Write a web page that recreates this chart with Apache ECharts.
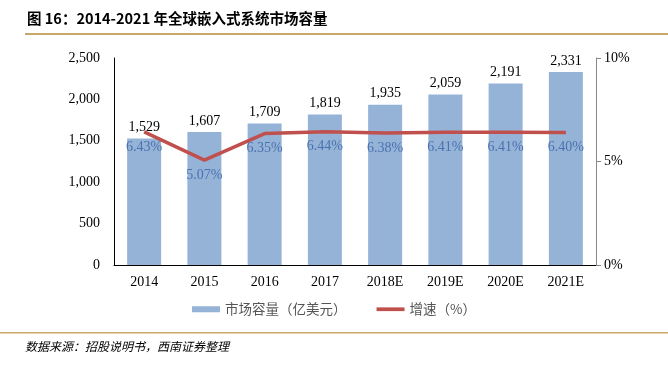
<!DOCTYPE html>
<html>
<head>
<meta charset="utf-8">
<script src="https://cdn.jsdelivr.net/npm/echarts@6/dist/echarts.min.js"></script>
<style>
  html, body { margin: 0; padding: 0; background: #fff; }
  #chart { width: 668px; height: 365px; }
</style>
</head>
<body>
<div id="chart"></div>
<script>
const years = ['2014', '2015', '2016', '2017', '2018E', '2019E', '2020E', '2021E'];
const marketSize = [1529, 1607, 1709, 1819, 1935, 2059, 2191, 2331];
const growth = [6.43, 5.07, 6.35, 6.44, 6.38, 6.41, 6.41, 6.40];

const serif = '"Liberation Serif", "Noto Sans CJK SC", serif';
const cjk = '"Noto Sans CJK SC", sans-serif';

const chart = echarts.init(document.getElementById('chart'));

chart.setOption({
  animation: false,
  backgroundColor: '#fff',
  grid: { left: 114, right: 72, top: 58, bottom: 100 },
  graphic: [
    {
      type: 'text', left: 27, top: 11,
      style: { text: '图 16：2014-2021 年全球嵌入式系统市场容量', font: 'bold 14.5px ' + cjk, fill: '#000' }
    },
    {
      type: 'rect', shape: { x: 25, y: 33, width: 643, height: 2 },
      style: { fill: '#c9a66b' }
    },
    {
      type: 'rect', shape: { x: 0, y: 332, width: 668, height: 1.5 },
      style: { fill: '#c9a66b' }
    },
    {
      type: 'text', left: 25, top: 340,
      style: { text: '数据来源：招股说明书，西南证券整理', font: 'italic 12px ' + cjk, fill: '#000' }
    }
  ],
  legend: {
    bottom: 44,
    left: 'center',
    itemGap: 30,
    itemWidth: 28,
    itemHeight: 6,
    textStyle: { fontFamily: cjk, fontSize: 13.5, color: '#555' },
    data: [
      { name: '市场容量（亿美元）', icon: 'rect' },
      { name: '增速（%）', icon: 'path://M0,0L30,0L30,4L0,4Z', itemStyle: { color: '#c0504d' } }
    ]
  },
  xAxis: {
    type: 'category',
    data: years,
    axisLine: { lineStyle: { color: '#000', width: 1 } },
    axisTick: { show: false },
    axisLabel: { fontFamily: serif, fontSize: 14, color: '#000', margin: 10 }
  },
  yAxis: [
    {
      type: 'value', min: 0, max: 2500, interval: 500,
      axisLine: { show: true, lineStyle: { color: '#000' } },
      axisTick: { show: false },
      splitLine: { show: false },
      axisLabel: {
        fontFamily: serif, fontSize: 14, color: '#000', margin: 14,
        formatter: v => v.toLocaleString('en-US')
      }
    },
    {
      type: 'value', min: 0, max: 10, interval: 5,
      axisLine: { show: true, lineStyle: { color: '#888' } },
      axisTick: { show: true, length: 5, lineStyle: { color: '#888' } },
      splitLine: { show: false },
      axisLabel: { fontFamily: serif, fontSize: 14, color: '#000', margin: 8, formatter: '{value}%' }
    }
  ],
  series: [
    {
      name: '市场容量（亿美元）',
      type: 'bar',
      data: marketSize,
      barWidth: 34,
      itemStyle: { color: '#95b3d7' },
      label: {
        show: true, position: 'top', distance: 4,
        fontFamily: serif, fontSize: 14, color: '#000',
        formatter: p => p.value.toLocaleString('en-US')
      }
    },
    {
      name: '增速（%）',
      type: 'line',
      yAxisIndex: 1,
      data: growth,
      symbol: 'circle',
      symbolSize: 0,
      showSymbol: true,
      lineStyle: { color: '#c0504d', width: 3.5 },
      itemStyle: { color: '#c0504d' },
      label: {
        show: true, position: 'bottom', distance: 8,
        fontFamily: serif, fontSize: 14, color: '#4a72b0',
        formatter: p => p.value.toFixed(2) + '%'
      }
    }
  ]
});
</script>
</body>
</html>
